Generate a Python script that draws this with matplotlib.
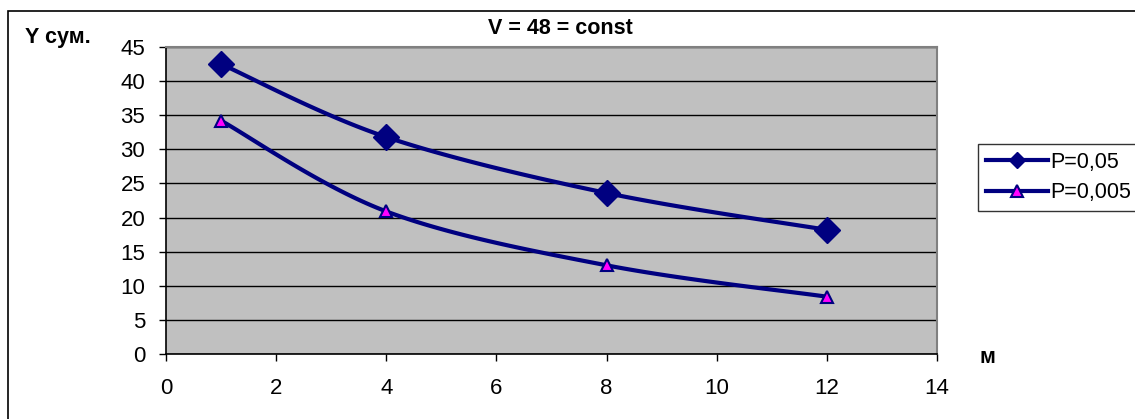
import numpy as np
import matplotlib
matplotlib.use("Agg")
import matplotlib.pyplot as plt
from matplotlib.lines import Line2D
from matplotlib.patches import Rectangle

plt.rcParams['font.family'] = ['Liberation Sans', 'DejaVu Sans']

# data
m_values = [1, 4, 8, 12]
y_p005 = [42.5, 31.8, 23.6, 18.2]
y_p0005 = [34.2, 20.9, 13.0, 8.4]
series_labels = ["P=0,05", "P=0,005"]
title_text = "V = 48 = const"
ylabel_text = "Y сум."
xlabel_text = "м"
x_ticks = [0, 2, 4, 6, 8, 10, 12, 14]
y_ticks = [0, 5, 10, 15, 20, 25, 30, 35, 40, 45]

NAVY = "#000080"
MAGENTA = "#FF00FF"


def smooth(xs, ys, n=40):
    """Catmull-Rom style smoothing (like Excel's smoothed line)."""
    xs = np.asarray(xs, float)
    ys = np.asarray(ys, float)
    px = np.concatenate([[xs[0]], xs, [xs[-1]]])
    py = np.concatenate([[ys[0]], ys, [ys[-1]]])
    ox, oy = [], []
    for i in range(1, len(px) - 2):
        p0 = np.array([px[i - 1], py[i - 1]])
        p1 = np.array([px[i], py[i]])
        p2 = np.array([px[i + 1], py[i + 1]])
        p3 = np.array([px[i + 2], py[i + 2]])
        c1 = p1 + (p2 - p0) / 6.0
        c2 = p2 - (p3 - p1) / 6.0
        t = np.linspace(0, 1, n)[:, None]
        b = ((1 - t) ** 3) * p1 + 3 * ((1 - t) ** 2) * t * c1 + 3 * (1 - t) * t ** 2 * c2 + t ** 3 * p2
        ox.extend(b[:, 0]); oy.extend(b[:, 1])
    return np.array(ox), np.array(oy)


fig = plt.figure(figsize=(11.35, 4.19), dpi=100)
fig.patches.append(Rectangle((8 / 1135, -0.1), 1.2, 1 - 11 / 419 + 0.1,
                             transform=fig.transFigure, fill=False,
                             edgecolor="black", linewidth=1.2, zorder=0))

ax = fig.add_axes([166 / 1135, 1 - 354 / 419, (937 - 166) / 1135, (354 - 47) / 419])
ax.set_facecolor("#C0C0C0")
ax.set_xlim(0, 14)
ax.set_ylim(0, 45)
ax.set_xticks(x_ticks)
ax.set_yticks(y_ticks)
ax.yaxis.grid(True, color="black", linewidth=1.0)
ax.set_axisbelow(True)
ax.tick_params(direction="out", length=5, width=1, labelsize=16, colors="black")
ax.tick_params(axis="x", pad=12)
ax.tick_params(axis="y", pad=10)
for s in ["top", "right"]:
    ax.spines[s].set_color("#808080")
    ax.spines[s].set_linewidth(1.5)
for s in ["left", "bottom"]:
    ax.spines[s].set_color("black")
    ax.spines[s].set_linewidth(1.2)

sx, sy = smooth(m_values, y_p005)
ax.plot(sx, sy, color=NAVY, linewidth=3, zorder=3)
ax.plot(m_values, y_p005, linestyle="none", marker="D", markersize=13,
        markerfacecolor=NAVY, markeredgecolor=NAVY, zorder=4)
sx, sy = smooth(m_values, y_p0005)
ax.plot(sx, sy, color=NAVY, linewidth=3, zorder=3)
ax.plot(m_values, y_p0005, linestyle="none", marker="^", markersize=9,
        markerfacecolor=MAGENTA, markeredgecolor=NAVY, markeredgewidth=1.5, zorder=4)

fig.text(560 / 1135, 1 - 28 / 419, title_text, ha="center", va="center",
         fontsize=15.5, fontweight="bold")
fig.text(25 / 1135, 1 - 37 / 419, ylabel_text, ha="left", va="center",
         fontsize=15.5, fontweight="bold")
fig.text(987 / 1135, 1 - 357 / 419, xlabel_text, ha="center", va="center",
         fontsize=15.5, fontweight="bold")

handles = [
    Line2D([], [], color=NAVY, linewidth=3, marker="D", markersize=8,
           markerfacecolor=NAVY, markeredgecolor=NAVY),
    Line2D([], [], color=NAVY, linewidth=3, marker="^", markersize=8,
           markerfacecolor=MAGENTA, markeredgecolor=NAVY, markeredgewidth=1.5),
]
leg = fig.legend(handles, series_labels, loc="upper left",
                 bbox_to_anchor=(978 / 1135, 1 - 144 / 419),
                 fontsize=15.5, frameon=True, fancybox=False, handlelength=2.9,
                 handletextpad=0.1, borderpad=0.35, labelspacing=0.45,
                 borderaxespad=0)
leg.get_frame().set_edgecolor("black")
leg.get_frame().set_linewidth(1.0)

fig.savefig("out.png", dpi=100)
